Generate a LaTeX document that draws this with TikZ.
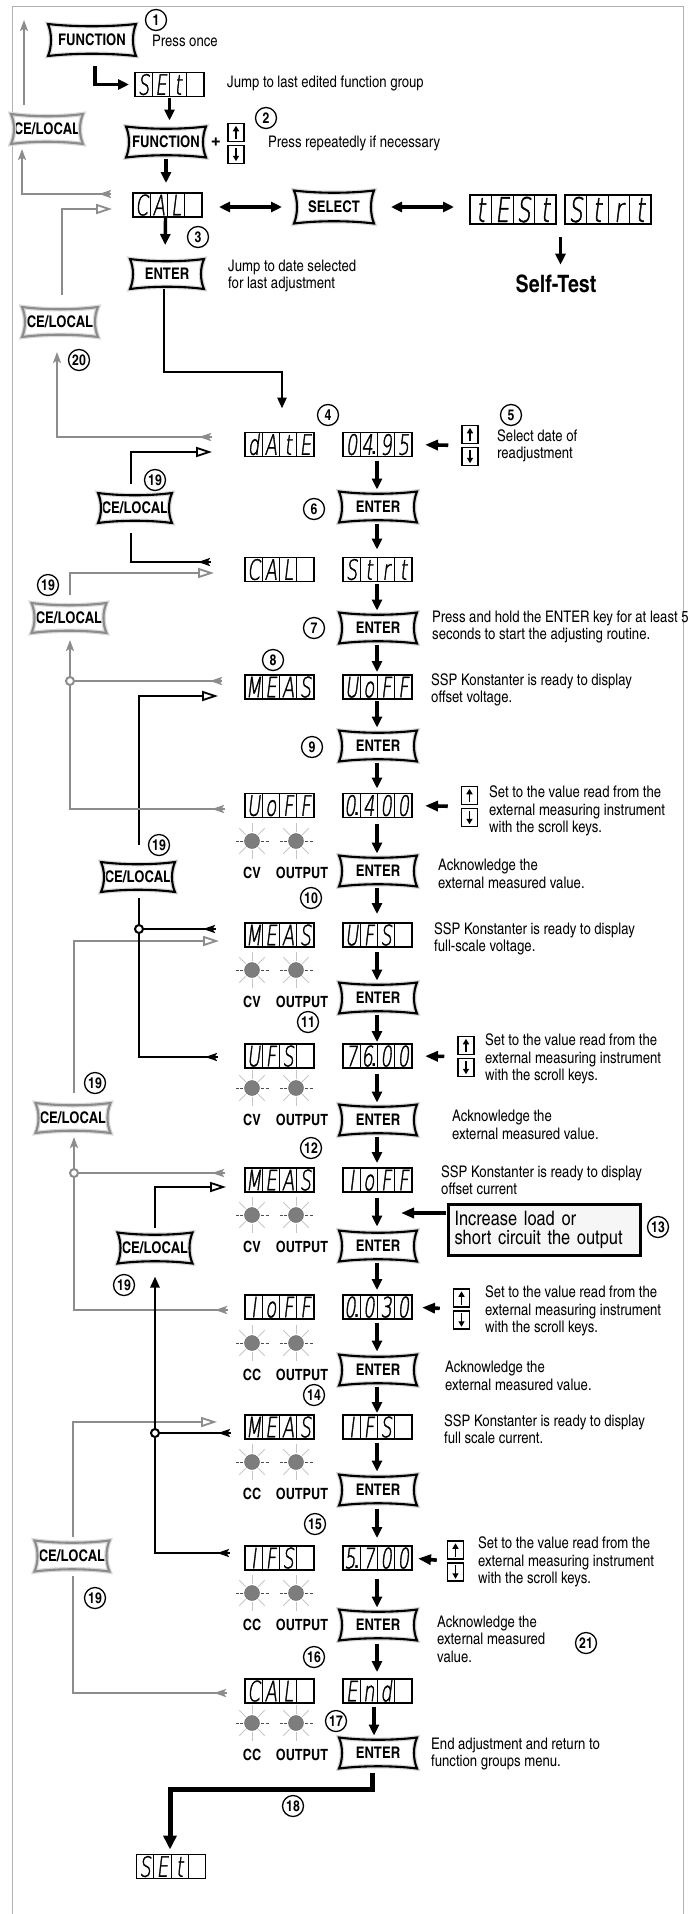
\documentclass[tikz,border=0pt]{standalone}
\usepackage{fontspec}
\usetikzlibrary{arrows.meta,calc}
\IfFontExistsTF{texgyreheroscn-regular.otf}
 {\newfontfamily\fcn{texgyreheroscn}[Extension=.otf,UprightFont=*-regular,BoldFont=*-bold]}
 {\newfontfamily\fcn{Liberation Sans}[FakeStretch=0.8]}
\newfontfamily\freg{Liberation Sans}
\IfFontExistsTF{DejaVuSans-ExtraLight.ttf}
 {\newfontfamily\fseg{DejaVuSans-ExtraLight.ttf}[FakeSlant=0.12,FakeStretch=0.64,FakeBold=1.3]}
 {\newfontfamily\fseg{DejaVu Sans}[FakeSlant=0.12,FakeStretch=0.64]}
\newcommand\sdot{{\kern-1.2pt\fcn\bfseries\fontsize{20}{20}\selectfont.}}
\definecolor{cgray}{RGB}{140,140,140}
\definecolor{ledgray}{RGB}{125,125,125}
\tikzset{
  keytxt/.style={inner sep=0pt,outer sep=0pt,font=\fcn\bfseries\fontsize{16}{16}\selectfont},
  dispbox/.style={draw,line width=1.5pt,minimum width=69pt,minimum height=24pt,inner sep=0pt,outer sep=0pt},
  segc/.style={inner sep=0pt,text height=20.5pt,text depth=0pt,font=\fseg\fontsize{28}{28}\selectfont},
  desc/.style={inner sep=0pt,anchor=west,align=left,font=\fcn\fontsize{16}{17.5}\selectfont},
  circnum/.style={circle,draw,line width=1.3pt,minimum size=21pt,inner sep=0pt,font=\fcn\bfseries\fontsize{15}{15}\selectfont},
  ledlbl/.style={inner sep=0pt,font=\fcn\bfseries\fontsize{15.5}{15.5}\selectfont},
  udk/.style={draw,line width=1.5pt,minimum width=16pt,minimum height=18pt,inner sep=0pt},
  udar/.style={line width=1.8pt,-{Triangle[length=5.5pt,width=6pt]}},
  grayln/.style={draw=cgray,line width=2.6pt},
  blkln/.style={draw=black,line width=2.6pt},
  headg/.style={draw=cgray,line width=2.6pt,-{Stealth[length=12pt,width=8pt,inset=2.5pt]}},
  headb/.style={draw=black,line width=2.6pt,-{Stealth[length=12pt,width=8pt,inset=2.5pt]}},
  gtip/.tip={Stealth[length=11pt,width=8pt,inset=2.5pt]},
  btip/.tip={Triangle[length=11pt,width=9pt]},
  otri/.style={-{Triangle[length=16pt,width=10pt,fill=white,line width=1.8pt]}},
  flow/.style={draw=black,line width=3.4pt,-{Triangle[length=11pt,width=10pt]}},
  sideflow/.style={draw=black,line width=3.6pt,-{Triangle[length=13pt,width=10pt]}},
  dflow/.style={draw=black,line width=3.4pt,{Triangle[length=11pt,width=10pt]}-{Triangle[length=11pt,width=10pt]}},
}
\newcommand\keypath[3]{(#1.north west) .. controls +(0.3*#2,3) and +(-0.3*#2,3) .. (#1.north east) .. controls +(-4,0.3*#3) and +(-4,-0.3*#3) .. (#1.south east) .. controls +(-0.3*#2,-3) and +(0.3*#2,-3) .. (#1.south west) .. controls +(4,-0.3*#3) and +(4,0.3*#3) .. cycle}
\newcommand\keybox[6]{%
  \node[keytxt,minimum width=#3pt,minimum height=#4pt] (#1) at (#2) {#5};
  \draw[draw=gray!30,line width=4.5pt,line join=miter,miter limit=6] \keypath{#1}{#3}{#4};
  \draw[draw=#6,line width=2.1pt,line join=miter,miter limit=6] \keypath{#1}{#3}{#4};
}
\newcommand\disp[7]{%
  \node[dispbox] (#1) at (#2,#3) {};
  \foreach \k in {0.25,0.5,0.75}
    \draw[line width=0.9pt] ($(#1.north west)!\k!(#1.north east)$) -- ($(#1.south west)!\k!(#1.south east)$);
  \node[segc] (#1-a) at ($(#1.west)!0.125!(#1.east)$) {#4};
  \node[segc] (#1-b) at ($(#1.west)!0.375!(#1.east)$) {#5};
  \node[segc] (#1-c) at ($(#1.west)!0.625!(#1.east)$) {#6};
  \node[segc] (#1-d) at ($(#1.west)!0.875!(#1.east)$) {#7};
}
\newcommand\udkeys[3]{%
  \node[udk] (#1u) at ($(#2,#3)+(0,-11)$) {};
  \node[udk] (#1d) at ($(#2,#3)+(0,11)$) {};
  \draw[udar] ($(#1u.south)+(0,-3)$) -- ($(#1u.north)+(0,3)$);
  \draw[udar] ($(#1d.north)+(0,3)$) -- ($(#1d.south)+(0,-3)$);
  \coordinate (#1) at ($(#1u.south west)!0.5!(#1d.north west)$);
}
\newcommand\led[3]{%
  \coordinate (#1) at (#2,#3);
  \foreach \a in {45,90,135,225,270,315}
    \draw[draw=gray!45,line width=0.8pt] ($(#1)+(\a:9)$) -- ($(#1)+(\a:18)$);
  \foreach \a in {0,180}
    \draw[draw=black!70,line width=0.7pt,dash pattern=on 3pt off 1.5pt] ($(#1)+(\a:9)$) -- ($(#1)+(\a:18)$);
  \fill[fill=ledgray,draw=ledgray!80!black,line width=0.4pt] (#1) circle[radius=7.5pt];
}
\newcommand\ledpair[3]{%
  \led{#1a}{252}{#2}\led{#1b}{296}{#2}
  \node[ledlbl] (#1l) at (252,#2+32) {#3};
  \node[ledlbl] (#1o) at (302,#2+32) {OUTPUT};
}
\newcommand\vflow[4]{\draw[flow,shorten <=#3pt,shorten >=#4pt] (#1.south -| mx) -- (#2.north -| mx);}
\begin{document}
\begin{tikzpicture}[x=1pt,y=-1pt]
\useasboundingbox (0,0) rectangle (688,1914);
\coordinate (mx) at (377,0);
\draw[draw=gray!60,line width=1pt] (12,1914) -- (12,6) -- (683,6) -- (683,1914);

% ================= NODES =================
\keybox{fn1}{92,40}{88}{32}{FUNCTION}{black}
\node[circnum] (n1) at (156,20) {1};
\node[desc] (t1) at (152,41) {Press once};
\disp{set1}{169.5}{84.5}{S}{E}{t}{}
\node[desc] (t2) at (227,83) {Jump to last edited function group};
\keybox{fn2}{166,142}{80}{31}{FUNCTION}{black}
\node[font=\fcn\bfseries\fontsize{22}{22}\selectfont,inner sep=0pt] (plus) at (216,143) {+};
\udkeys{ud0}{236}{143.5}
\node[circnum] (n2) at (266,118) {2};
\node[desc] (t3) at (268,143) {Press repeatedly if necessary};
\disp{cal1}{167.5}{205}{C}{A}{L}{}
\keybox{sel}{334,207}{80}{33}{SELECT}{black}
\begin{scope}[dispbox/.append style={minimum width=86pt,minimum height=29pt},
              segc/.append style={text height=25pt,font=\fseg\fontsize{34}{34}\selectfont}]
\disp{test}{513}{209.5}{t}{E}{S}{t}
\disp{strt}{608}{209.5}{S}{t}{r}{t}
\end{scope}
\node[inner sep=0pt,font=\fcn\bfseries\fontsize{24}{24}\selectfont] (st) at (556,284) {Self-Test};
\node[circnum] (n3) at (198,237) {3};
\keybox{en1}{167,274}{74}{30}{ENTER}{black}
\node[desc] (t4) at (228,276) {Jump to date selected\\for last adjustment};
\keybox{ce0}{47,129}{72}{30}{CE/LOCAL}{cgray}
\keybox{ce20}{60,322}{76}{30}{CE/LOCAL}{cgray}
\node[circnum] (n20) at (79,360) {20};

\node[circnum] (n4) at (328,415) {4};
\disp{date}{279.5}{444.5}{d}{A}{t}{E}
\disp{v0495}{377.5}{444.5}{0}{4\sdot}{9}{5}
\udkeys{ud1}{470}{445.5}
\node[circnum] (n5) at (511,415) {5};
\node[desc] (t5) at (497,446) {Select date of\\readjustment};
\node[circnum] (n6) at (314,509) {6};
\keybox{en2}{378,507}{78}{31}{ENTER}{black}
\keybox{ce19a}{135,508}{74}{30}{CE/LOCAL}{black}
\node[circnum] (n19a) at (155,480) {19};
\disp{cal2}{279.5}{569.5}{C}{A}{L}{}
\disp{strt2}{377.5}{569.5}{S}{t}{r}{t}
\keybox{ce19b}{69,618}{75}{30}{CE/LOCAL}{cgray}
\node[circnum] (n19b) at (48,585) {19};

\keybox{en3}{378,628}{78}{31}{ENTER}{black}
\node[circnum] (n7) at (314,628) {7};
\node[desc] (t6) at (432,627) {Press and hold the ENTER key for at least 5\\seconds to start the adjusting routine.};
\node[circnum] (n8) at (273,660) {8};
\disp{meas1}{279.5}{687}{M}{E}{A}{S}
\disp{uoff1}{377.5}{687}{U}{o}{F}{F}
\node[desc] (t7) at (431,690) {SSP Konstanter is ready to display\\offset voltage.};
\coordinate (jg1) at (70,681);
\keybox{ce19c}{138,877}{74}{30}{CE/LOCAL}{black}
\node[circnum] (n19c) at (159,845) {19};
\node[circnum] (n9) at (312,747) {9};
\keybox{en4}{378,746}{78}{31}{ENTER}{black}
\disp{uoff2}{279.5}{805.5}{U}{o}{F}{F}
\disp{v0400}{377.5}{805.5}{0\sdot}{4}{0}{0}
\udkeys{ud2}{469.5}{806.5}
\node[desc] (t8) at (489,811) {Set to the value read from the\\external measuring instrument\\with the scroll keys.};
\ledpair{la}{841}{CV}
\keybox{en5}{378,871}{78}{31}{ENTER}{black}
\node[desc] (t9) at (438,874) {Acknowledge the\\external measured value.};
\node[circnum] (n10) at (311,898) {10};

\disp{meas2}{279.5}{935}{M}{E}{A}{S}
\disp{ufs1}{377.5}{935}{U}{F}{S}{}
\node[desc] (t10) at (434,939) {SSP Konstanter is ready to display\\full-scale voltage.};
\coordinate (jb1) at (139,929);
\keybox{ce19d}{73,1118}{75}{30}{CE/LOCAL}{cgray}
\node[circnum] (n19d) at (95,1083) {19};
\ledpair{lb}{970}{CV}
\keybox{en6}{378,998}{78}{31}{ENTER}{black}
\node[circnum] (n11) at (308,1022) {11};
\disp{ufs2}{279.5}{1056}{U}{F}{S}{}
\disp{v7600}{377.5}{1056}{7}{6\sdot}{0}{0}
\udkeys{ud3}{466}{1056.5}
\node[desc] (t11) at (485,1059) {Set to the value read from the\\external measuring instrument\\with the scroll keys.};
\ledpair{lc}{1088}{CV}
\keybox{en7}{378,1120}{78}{31}{ENTER}{black}
\node[desc] (t12) at (452,1125) {Acknowledge the\\external measured value.};
\node[circnum] (n12) at (311,1148) {12};

\disp{meas3}{279.5}{1180}{M}{E}{A}{S}
\disp{ioff1}{377.5}{1180}{I}{o}{F}{F}
\node[desc] (t13) at (441,1180) {SSP Konstanter is ready to display\\offset current};
\coordinate (jg2) at (74,1173);
\keybox{ce19e}{155,1248}{75}{31}{CE/LOCAL}{black}
\node[circnum] (n19e) at (124,1285) {19};
\ledpair{ld}{1215}{CV}
\node[draw,line width=3pt,fill=gray!7,anchor=north west,text width=180pt,minimum height=51pt,inner xsep=6pt,inner ysep=0pt,align=left,font=\fcn\fontsize{20}{19}\selectfont] (box) at (447,1203) {Increase load or\\short circuit the output};
\coordinate (boxtip) at (401,1213);
\node[circnum] (n13) at (658,1227) {13};
\keybox{en8}{378,1246}{78}{31}{ENTER}{black}
\disp{ioff2}{279.5}{1307}{I}{o}{F}{F}
\disp{v0030}{377.5}{1307}{0\sdot}{0}{3}{0}
\udkeys{ud4}{461.5}{1309}
\node[desc] (t14) at (485,1311) {Set to the value read from the\\external measuring instrument\\with the scroll keys.};
\ledpair{le}{1343}{CC}
\keybox{en9}{378,1370}{78}{31}{ENTER}{black}
\node[desc] (t15) at (445,1376) {Acknowledge the\\external measured value.};
\node[circnum] (n14) at (314,1395) {14};

\disp{meas4}{279.5}{1427}{M}{E}{A}{S}
\disp{ifs1}{377.5}{1427}{I}{F}{S}{}
\node[desc] (t16) at (444,1429) {SSP Konstanter is ready to display\\full scale current.};
\keybox{ce19f}{72,1556}{75}{31}{CE/LOCAL}{cgray}
\node[circnum] (n19f) at (95,1598) {19};
\coordinate (jb2) at (155,1433);
\ledpair{lf}{1462}{CC}
\keybox{en10}{378,1490}{78}{31}{ENTER}{black}
\node[circnum] (n15) at (315,1524) {15};
\disp{ifs2}{279.5}{1558}{I}{F}{S}{}
\disp{v5700}{377.5}{1558}{5\sdot}{7}{0}{0}
\udkeys{ud5}{455.5}{1561}
\node[desc] (t17) at (478,1562) {Set to the value read from the\\external measuring instrument\\with the scroll keys.};
\ledpair{lg}{1593}{CC}
\keybox{en11}{378,1625}{78}{31}{ENTER}{black}
\node[desc] (t18) at (437,1639) {Acknowledge the\\external measured\\value.};
\node[circnum] (n21) at (586,1643) {21};
\node[circnum] (n16) at (314,1657) {16};
\disp{cal3}{279.5}{1691}{C}{A}{L}{}
\disp{endd}{377.5}{1691}{E}{n}{d}{}
\ledpair{lh}{1723}{CC}
\node[circnum] (n17) at (336,1721) {17};
\keybox{en12}{378,1753}{78}{31}{ENTER}{black}
\node[desc] (t19) at (431,1754) {End adjustment and return to\\function groups menu.};
\coordinate (b10a) at (170,1789);
\node[circnum] (n18) at (293,1806) {18};
\disp{set2}{171}{1866.5}{S}{E}{t}{}

% ================= CONNECTORS =================
\draw[draw=black,line width=3.6pt,-{Triangle[length=11pt,width=10pt]},shorten >=6pt] ($(fn1.south)+(3,10)$) |- (set1.west);
\draw[flow,shorten <=1pt,shorten >=6pt] (set1.south) -- (set1.south |- fn2.north);
\draw[flow,shorten <=1pt,shorten >=10pt] (fn2.south) -- (fn2.south |- cal1.north);
\draw[dflow,shorten <=17pt,shorten >=12pt] (cal1.east |- sel.west) -- (sel.west);
\draw[dflow,shorten <=17pt,shorten >=16pt] (sel.east) -- (sel.east -| test.west);
\coordinate (tsmid) at ($(test.south east)!0.5!(strt.south west)$);
\draw[flow,shorten <=13pt,shorten >=10pt] (tsmid) -- (tsmid |- st.north);
\draw[flow,shorten <=1pt,shorten >=14pt] ($(cal1.south)+(-2,0)$) -- ($(en1.north)+(-2,0)$);
\coordinate (topend) at (24,20);
\draw[grayln,-{gtip},shorten <=9pt] (ce0.north -| topend) -- (topend);
\draw[headg] ($(cal1.west)+(-22,-11)$) -- ($(cal1.west)+(-34,-11)$);
\draw[grayln,-{gtip}] ($(cal1.west)+(-31,-11)$) -| ($(ce0.south)+(-25,5)$);
\draw[grayln,otri,shorten <=12pt] ($(ce20.north)+(2,0)$) |- ($(cal1.west)+(-21,4)$);

\coordinate (b1a) at (282,372);
\draw[blkln,-{btip}] ($(en1.south)+(-3,0)$) |- (b1a) -- ($(date.north)+(2.5,-24)$);
\draw[sideflow,shorten <=13pt,shorten >=13pt] (ud1) -- (v0495.east);
\draw[headg] ($(date.west)+(-33,-7.5)$) -- ($(date.west)+(-46,-7.5)$);
\draw[grayln,-{gtip}] ($(date.west)+(-43,-7.5)$) -| ($(ce20.south)+(-3,15)$);
\vflow{v0495}{en2}{4}{2}
\draw[blkln,otri,shorten <=9pt] ($(ce19a.north)+(-4,0)$) |- ($(date.west)+(-33,7.5)$);
\vflow{en2}{strt2}{1}{8}
\draw[headb] ($(cal2.west)+(-34,-7.5)$) -- ($(cal2.west)+(-47,-7.5)$);
\draw[blkln,shorten >=10pt] ($(cal2.west)+(-44,-7.5)$) -| ($(ce19a.south)+(-4,0)$);
\draw[grayln,otri,shorten <=8pt] ($(ce19b.north)+(1,0)$) |- ($(cal2.west)+(-31,3.5)$);

\vflow{strt2}{en3}{2}{2}
\vflow{en3}{uoff1}{1}{3}
\draw[headg] ($(meas1.west)+(-23,-6)$) -- ($(meas1.west)+(-35,-6)$);
\draw[grayln,-{gtip}] ($(meas1.west)+(-32,-6)$) -- (jg1) -- ($(ce19b.south)+(1,7)$);
\draw[blkln,otri,shorten <=17pt] ($(ce19c.north)+(1,0)$) |- ($(meas1.west)+(-27,9)$);
\vflow{uoff1}{en4}{2}{3}
\vflow{en4}{v0400}{1}{5}
\draw[sideflow,shorten <=13pt,shorten >=13pt] (ud2) -- (v0400.east);
\draw[headg] ($(uoff2.west)+(-20,3.5)$) -- ($(uoff2.west)+(-33,3.5)$);
\draw[grayln] ($(uoff2.west)+(-30,3.5)$) -| (jg1);
\draw[draw=cgray,line width=2pt,fill=white] (jg1) circle[radius=4pt];
\vflow{v0400}{en5}{6}{2}

\vflow{en5}{ufs1}{1}{9}
\draw[headb] ($(meas2.west)+(-29,-6)$) -- ($(meas2.west)+(-42,-6)$);
\draw[blkln] ($(meas2.west)+(-39,-6)$) -- (jb1);
\draw[grayln,otri,shorten <=10pt] ($(ce19d.north)+(1,0)$) |- ($(meas2.west)+(-26,6)$);
\vflow{ufs1}{en6}{5}{2}
\vflow{en6}{v7600}{1}{2}
\draw[sideflow,shorten <=13pt,shorten >=13pt] (ud3) -- (v7600.east);
\draw[headb] ($(ufs2.west)+(-27,1)$) -- ($(ufs2.west)+(-40,1)$);
\draw[blkln,shorten >=6pt] ($(ufs2.west)+(-37,1)$) -| ($(ce19c.south)+(1,0)$);
\draw[draw=black,line width=2pt,fill=white] (jb1) circle[radius=4pt];
\vflow{v7600}{en7}{6}{2}

\vflow{en7}{ioff1}{1}{5}
\draw[headg] ($(meas3.west)+(-20,-7)$) -- ($(meas3.west)+(-33,-7)$);
\draw[grayln] ($(meas3.west)+(-30,-7)$) -- (jg2);
\draw[blkln,otri,shorten <=5pt] (ce19e.north) |- ($(meas3.west)+(-19,7)$);
\vflow{ioff1}{en8}{6}{4}
\draw[sideflow] ($(box.north west)+(-1.5,10)$) -- (boxtip);
\vflow{en8}{v0030}{1}{5}
\draw[sideflow,shorten <=13pt,shorten >=10pt] (ud4) -- (v0030.east);
\draw[headg] ($(ioff2.west)+(-17,3)$) -- ($(ioff2.west)+(-30,3)$);
\draw[grayln,-{gtip}] ($(ioff2.west)+(-27,3)$) -| ($(ce19d.south)+(1,4)$);
\draw[draw=cgray,line width=2pt,fill=white] (jg2) circle[radius=4pt];
\vflow{v0030}{en9}{4}{3}

\vflow{en9}{ifs1}{1}{2}
\draw[grayln,otri,shorten <=4pt] ($(ce19f.north)+(1,0)$) |- ($(meas4.west)+(-28,-5)$);
\draw[headb] ($(meas4.west)+(-14,6)$) -- ($(meas4.west)+(-27,6)$);
\draw[blkln] ($(meas4.west)+(-24,6)$) -- (jb2);
\vflow{ifs1}{en10}{4}{3}
\vflow{en10}{v5700}{3}{8}
\draw[sideflow,shorten <=10pt,shorten >=6pt] (ud5) -- (v5700.east);
\draw[headb] ($(ifs2.west)+(-15,-5)$) -- ($(ifs2.west)+(-28,-5)$);
\draw[blkln,-{btip}] ($(ifs2.west)+(-25,-5)$) -| ($(ce19e.south)+(0,13)$);
\draw[draw=black,line width=2pt,fill=white] (jb2) circle[radius=4pt];
\vflow{v5700}{en11}{9}{2}

\vflow{en11}{endd}{3}{7}
\draw[headg] ($(cal3.west)+(-18,2)$) -- ($(cal3.west)+(-31,2)$);
\draw[grayln,shorten >=4.5pt] ($(cal3.west)+(-28,2)$) -| ($(ce19f.south)+(1,0)$);
\draw[flow,shorten <=4pt,shorten >=2pt] ($(endd.south)+(-3.5,0)$) -- ($(en12.north)+(-4,0)$);
\draw[draw=black,line width=5pt,line join=miter,-{Triangle[length=14pt,width=13pt]},shorten >=5pt] ($(en12.south)+(-6,4)$) |- (b10a) -- (set2.north -| b10a);
\end{tikzpicture}
\end{document}
